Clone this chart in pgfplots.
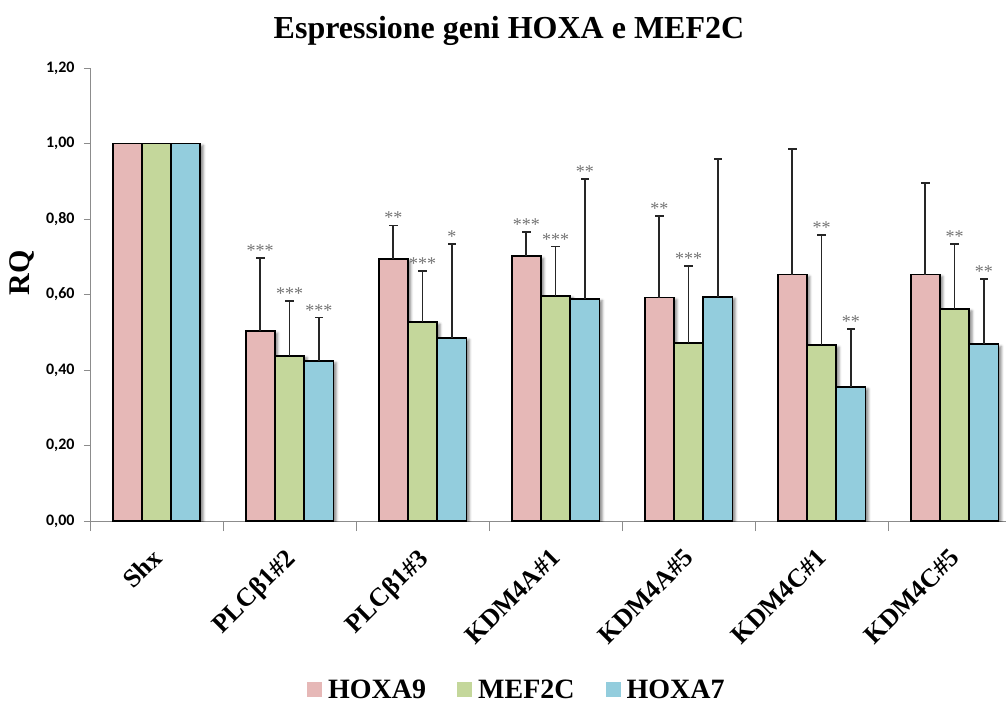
\documentclass[border=0pt]{standalone}
\usepackage{fontspec}
\setmainfont{Liberation Serif}
\newfontfamily\calibri{Carlito}
\usepackage{pgfplots}
\usepackage{pgfplotstable}
\pgfplotsset{compat=1.18}
\usetikzlibrary{shadows.blur}
\definecolor{cA}{RGB}{230,184,183}
\definecolor{cB}{RGB}{196,215,155}
\definecolor{cC}{RGB}{147,205,221}

\pgfplotstableread{
x a ea b eb c ec
0 1.000 0.000 1.000 0.000 1.000 0.000
1 0.503 0.194 0.438 0.145 0.424 0.115
2 0.695 0.088 0.527 0.135 0.485 0.249
3 0.701 0.065 0.597 0.130 0.589 0.316
4 0.592 0.217 0.471 0.204 0.594 0.366
5 0.653 0.332 0.466 0.292 0.355 0.154
6 0.653 0.243 0.562 0.172 0.468 0.174
}\data

\pgfplotstableread{
x y s
0.78 0.697 ***
1.78 0.783 **
2.78 0.766 ***
3.78 0.809 **
1.00 0.583 ***
2.00 0.662 ***
3.00 0.727 ***
4.00 0.675 ***
5.00 0.758 **
6.00 0.734 **
1.22 0.539 ***
2.22 0.734 *
3.22 0.905 **
5.22 0.509 **
6.22 0.642 **
}\stars

\begin{document}
\begin{tikzpicture}
\begin{axis}[
  scale only axis, width=916pt, height=453pt,
  at={(90pt,-521pt)}, anchor=south west,
  xmin=-0.5, xmax=6.387, ymin=0, ymax=1.2,
  axis x line*=bottom, axis y line*=left,
  axis line style={draw=black!45, line width=0.8pt},
  tick align=outside,
  major tick length=6pt, minor tick length=10pt,
  tick style={draw=black!45, line width=0.8pt},
  xtick={0,...,6},
  minor xtick={-0.5,0.5,...,5.5},
  every major x tick/.append style={draw=none},
  xticklabels={Shx, PLCβ1\#2, PLCβ1\#3, KDM4A\#1, KDM4A\#5, KDM4C\#1, KDM4C\#5},
  xticklabel shift=12pt,
  xticklabel style={xshift=-6pt, yshift=-8pt, font=\bfseries\fontsize{26}{26}\selectfont, rotate=45, anchor=north east, inner sep=0pt},
  ytick={0,0.2,0.4,0.6,0.8,1.0,1.2},
  yticklabel style={xshift=-6pt, font=\calibri\bfseries\fontsize{16}{16}\selectfont,
    /pgf/number format/fixed, /pgf/number format/fixed zerofill,
    /pgf/number format/precision=2, /pgf/number format/use comma,
    /pgf/number format/assume math mode=true},
  title={Espressione geni HOXA e MEF2C},
  title style={at={(axis description cs:0.4574,1.052)}, anchor=base, font=\bfseries\fontsize{32}{32}\selectfont},
  ylabel={RQ},
  ylabel style={at={(axis description cs:-0.0742,0.5475)}, anchor=center, font=\bfseries\fontsize{30}{30}\selectfont},
  legend columns=3,
  legend style={at={(axis description cs:0.4660,-0.373)}, anchor=center, draw=none, fill=none,
    font=\bfseries\fontsize{28}{28}\selectfont,
    /tikz/every odd column/.append style={column sep=4pt},
    /tikz/every even column/.append style={column sep=29pt}},
  legend image code/.code={\fill[#1] (0pt,-7.5pt) rectangle (15pt,7.5pt);},
]
\addlegendimage{fill=cA, draw=none}
\addlegendentry{HOXA9}
\addlegendimage{fill=cB, draw=none}
\addlegendentry{MEF2C}
\addlegendimage{fill=cC, draw=none}
\addlegendentry{HOXA7}

\addplot[forget plot, ybar, bar width=0.22, bar shift=-0.22, fill=cA, draw=black, line width=1.8pt,
  blur shadow={shadow xshift=3pt, shadow yshift=-2pt, shadow blur radius=2.5pt, shadow opacity=45}]
  table[x=x, y=a]{\data};
\addplot[forget plot, ybar, bar width=0.22, bar shift=0, fill=cB, draw=black, line width=1.8pt,
  blur shadow={shadow xshift=3pt, shadow yshift=-2pt, shadow blur radius=2.5pt, shadow opacity=45}]
  table[x=x, y=b]{\data};
\addplot[forget plot, ybar, bar width=0.22, bar shift=0.22, fill=cC, draw=black, line width=1.8pt,
  blur shadow={shadow xshift=3pt, shadow yshift=-2pt, shadow blur radius=2.5pt, shadow opacity=45}]
  table[x=x, y=c]{\data};

% error bars (upper only)
\addplot[forget plot, draw=none, mark=none, skip coords between index={0}{1},
  error bars/.cd, y dir=plus, y explicit, error mark=none,
  error bar style={draw=black!85, line width=1.8pt}]
  table[x expr=\thisrow{x}-0.22, y=a, y error=ea]{\data};
\addplot[forget plot, draw=none, mark=none, skip coords between index={0}{1},
  error bars/.cd, y dir=plus, y explicit, error mark=none,
  error bar style={draw=black!85, line width=1.8pt}]
  table[x=x, y=b, y error=eb]{\data};
\addplot[forget plot, draw=none, mark=none, skip coords between index={0}{1},
  error bars/.cd, y dir=plus, y explicit, error mark=none,
  error bar style={draw=black!85, line width=1.8pt}]
  table[x expr=\thisrow{x}+0.22, y=c, y error=ec]{\data};
% caps (horizontal error bars at the top of each error bar)
\addplot[forget plot, draw=none, mark=none, skip coords between index={0}{1},
  error bars/.cd, x dir=both, x fixed=0.032, error mark=none,
  error bar style={draw=black!85, line width=1.8pt}]
  table[x expr=\thisrow{x}-0.22, y expr=\thisrow{a}+\thisrow{ea}]{\data};
\addplot[forget plot, draw=none, mark=none, skip coords between index={0}{1},
  error bars/.cd, x dir=both, x fixed=0.032, error mark=none,
  error bar style={draw=black!85, line width=1.8pt}]
  table[x=x, y expr=\thisrow{b}+\thisrow{eb}]{\data};
\addplot[forget plot, draw=none, mark=none, skip coords between index={0}{1},
  error bars/.cd, x dir=both, x fixed=0.032, error mark=none,
  error bar style={draw=black!85, line width=1.8pt}]
  table[x expr=\thisrow{x}+0.22, y expr=\thisrow{c}+\thisrow{ec}]{\data};

\addplot[forget plot, only marks, mark=none, nodes near coords, point meta=explicit symbolic,
  every node near coord/.append style={anchor=base, inner sep=0pt, yshift=1.5pt,
    font=\fontsize{18}{18}\selectfont, text=black!55}]
  table[x=x, y=y, meta=s]{\stars};
\end{axis}
\pgfresetboundingbox
\useasboundingbox (0,0) rectangle (1006pt,-702pt);
\end{tikzpicture}
\end{document}
